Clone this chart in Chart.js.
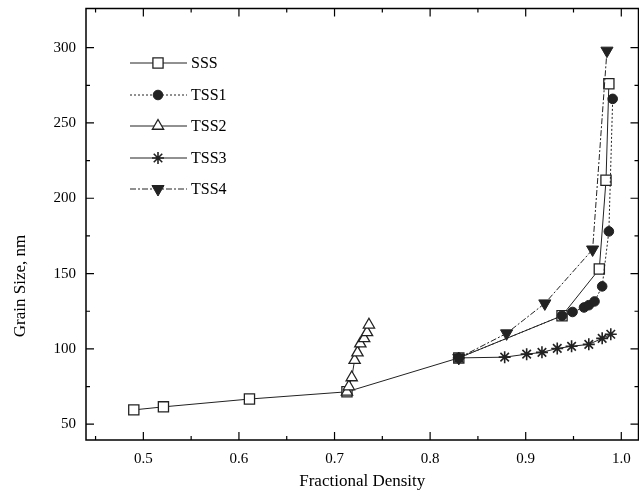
<!DOCTYPE html>
<html>
<head>
<meta charset="utf-8">
<script src="https://cdn.jsdelivr.net/npm/chart.js@4.4.1/dist/chart.umd.min.js"></script>
<style>
html, body { margin: 0; padding: 0; background: #fff; overflow: hidden; }
#wrap { width: 647px; height: 500px; }
</style>
</head>
<body>
<div id="wrap"><canvas id="grainChart"></canvas></div>
<script>
// series names (legend order)
var seriesNames = ["SSS", "TSS1", "TSS2", "TSS3", "TSS4"];

// fractional density / grain size (nm)
var sssX = [0.490, 0.521, 0.611, 0.713, 0.830, 0.938, 0.977, 0.984, 0.987];
var sssY = [59.5, 61.5, 66.7, 71.5, 94, 122, 153, 212, 276];

var tss1X = [0.830, 0.938, 0.949, 0.961, 0.966, 0.972, 0.980, 0.987, 0.991];
var tss1Y = [94, 122, 124.5, 127.5, 129, 131.5, 141.5, 178, 266];

var tss2X = [0.713, 0.715, 0.718, 0.721, 0.724, 0.727, 0.731, 0.734, 0.736];
var tss2Y = [71.5, 75, 81, 92.5, 97.5, 103.5, 107, 111, 116];

var tss3X = [0.830, 0.878, 0.901, 0.917, 0.933, 0.948, 0.966, 0.980, 0.989];
var tss3Y = [94, 94.5, 96.5, 97.7, 100.3, 101.7, 103, 107, 109.7];

var tss4X = [0.830, 0.880, 0.920, 0.970, 0.985];
var tss4Y = [94, 110.3, 130.2, 166, 298];

// axis ticks
var xTicks = [0.5, 0.6, 0.7, 0.8, 0.9, 1.0];
var xMinor = [0.45, 0.55, 0.65, 0.75, 0.85, 0.95];
var yTicks = [50, 100, 150, 200, 250, 300];
var yMinor = [75, 125, 175, 225, 275];

var xTitle = "Fractional Density";
var yTitle = "Grain Size, nm";

function pts(xs, ys) {
  return xs.map(function (x, i) { return { x: x, y: ys[i] }; });
}

var ink = "#222";
var styles = [
  { style: "rect", bg: "#fff", r: 7.2, dash: [], rot: 0, bw: 1.3 },
  { style: "circle", bg: ink, r: 4.8, dash: [2, 2], rot: 0, bw: 1 },
  { style: "triangle", bg: "#fff", r: 6.5, dash: [], rot: 0, bw: 1.3 },
  { style: "star", bg: ink, r: 6, dash: [], rot: 0, bw: 1.6 },
  { style: "triangle", bg: ink, r: 7, dash: [6, 2, 2, 2], rot: 180, bw: 1 }
];
var allData = [pts(sssX, sssY), pts(tss1X, tss1Y), pts(tss2X, tss2Y), pts(tss3X, tss3Y), pts(tss4X, tss4Y)];

var datasets = seriesNames.map(function (name, i) {
  var s = styles[i];
  return {
    label: name,
    data: allData[i],
    borderColor: ink,
    borderWidth: 1,
    borderDash: s.dash,
    pointStyle: s.style,
    pointRadius: s.r,
    pointHoverRadius: s.r,
    pointRotation: s.rot,
    pointBackgroundColor: s.bg,
    pointBorderColor: ink,
    pointBorderWidth: s.bw,
    order: i === 0 ? 10 : 5 - i,
    tension: 0
  };
});

// box with inward major/minor ticks on all four sides, y title and hand-drawn legend
var framePlugin = {
  id: "frame",
  afterDraw: function (chart) {
    var c = chart.ctx, a = chart.chartArea;
    var xs = chart.scales.x, ys = chart.scales.y;
    c.save();
    c.strokeStyle = "#000";
    c.lineWidth = 1.5;
    c.setLineDash([]);
    c.strokeRect(a.left, a.top, a.right - a.left, a.bottom - a.top);
    c.lineWidth = 1.2;
    function xt(v, len) {
      var p = xs.getPixelForValue(v);
      c.beginPath();
      c.moveTo(p, a.bottom); c.lineTo(p, a.bottom - len);
      c.moveTo(p, a.top); c.lineTo(p, a.top + len);
      c.stroke();
    }
    function yt(v, len) {
      var p = ys.getPixelForValue(v);
      c.beginPath();
      c.moveTo(a.left, p); c.lineTo(a.left + len, p);
      c.moveTo(a.right, p); c.lineTo(a.right - len, p);
      c.stroke();
    }
    xTicks.forEach(function (v) { xt(v, 8); });
    xMinor.forEach(function (v) { xt(v, 4); });
    yTicks.forEach(function (v) { yt(v, 8); });
    yMinor.forEach(function (v) { yt(v, 4); });

    // y axis title, sits a bit below the middle in the original
    c.save();
    c.translate(21, 286);
    c.rotate(-Math.PI / 2);
    c.font = "17px 'Liberation Serif'";
    c.textAlign = "center";
    c.textBaseline = "middle";
    c.fillStyle = "#000";
    c.fillText(yTitle, 0, 0);
    c.restore();

    // legend
    var lx0 = 130, lx1 = 187, mx = 158, tx = 191;
    var rows = [63, 95, 126, 158, 189];
    c.font = "16px 'Liberation Serif'";
    c.textBaseline = "middle";
    chart.data.datasets.forEach(function (ds, i) {
      var y = rows[i];
      c.strokeStyle = ink;
      c.lineWidth = 1;
      c.setLineDash(ds.borderDash);
      c.beginPath(); c.moveTo(lx0, y); c.lineTo(lx1, y); c.stroke();
      c.setLineDash([]);
      c.fillStyle = ds.pointBackgroundColor;
      c.strokeStyle = ink;
      c.lineWidth = ds.pointBorderWidth;
      Chart.helpers.drawPoint(c, { pointStyle: ds.pointStyle, radius: ds.pointRadius, rotation: ds.pointRotation, borderWidth: ds.pointBorderWidth }, mx, y);
      c.fillStyle = "#000";
      c.fillText(ds.label, tx, y + 1);
    });
    c.restore();
  }
};

var tickFont = { family: "'Liberation Serif'", size: 15 };
var titleFont = { family: "'Liberation Serif'", size: 17 };

new Chart(document.getElementById("grainChart").getContext("2d"), {
  type: "line",
  data: { datasets: datasets },
  options: {
    responsive: true,
    maintainAspectRatio: false,
    animation: false,
    layout: { padding: { top: 8, right: 1, left: 0, bottom: 0 } },
    plugins: { legend: { display: false }, tooltip: { enabled: false } },
    scales: {
      x: {
        type: "linear",
        min: 0.44,
        max: 1.018,
        afterBuildTicks: function (s) { s.ticks = xTicks.map(function (v) { return { value: v }; }); },
        afterFit: function (s) { s.height = 60; s.paddingLeft = 0; s.paddingRight = 0; },
        grid: { display: false, drawTicks: false },
        border: { display: false },
        ticks: { padding: 10, color: "#000", font: tickFont, maxRotation: 0,
          callback: function (v) { return v.toFixed(1); } },
        title: { display: true, text: xTitle, color: "#000", font: titleFont, padding: { top: 8, bottom: 8 } }
      },
      y: {
        min: 39.5,
        max: 326,
        afterBuildTicks: function (s) { s.ticks = yTicks.map(function (v) { return { value: v }; }); },
        afterFit: function (s) { s.width = 86; s.paddingTop = 0; s.paddingBottom = 0; },
        grid: { display: false, drawTicks: false },
        border: { display: false },
        ticks: { padding: 10, color: "#000", font: tickFont },
        title: { display: false }
      }
    }
  },
  plugins: [framePlugin]
});
</script>
</body>
</html>
